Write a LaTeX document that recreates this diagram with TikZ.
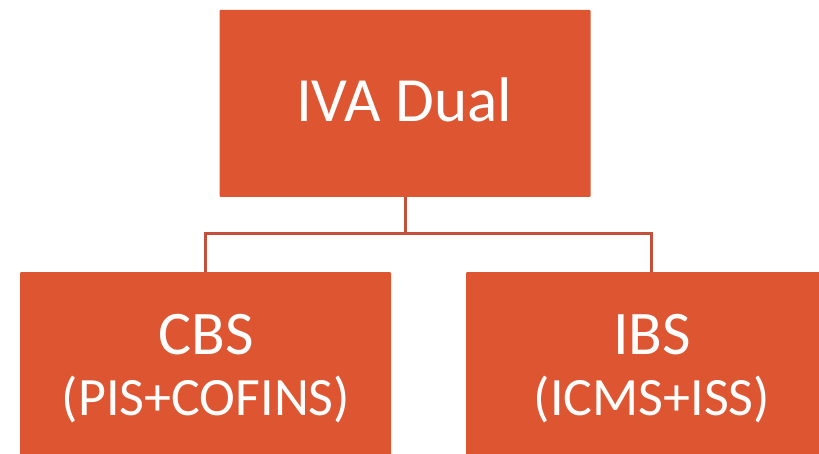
\documentclass[tikz,border=0pt]{standalone}
\usepackage{fontspec}
\setmainfont{Carlito}
\definecolor{boxfill}{HTML}{DE5631}
\definecolor{linec}{HTML}{C4503C}
\begin{document}
\begin{tikzpicture}[x=1pt,y=-1pt,
  orgbox/.style={fill=boxfill, draw=none, rounded corners=1pt, text=white, align=center},
  conn/.style={draw=linec, line width=3pt}]
\useasboundingbox (0,0) rectangle (819,454);
\clip (0,0) rectangle (819,454);
\fill[white] (0,0) rectangle (819,454);
\node[orgbox, minimum width=371pt, minimum height=187pt, inner sep=0pt] (top) at (405,103.5) {};
\node[text=white, font=\fontsize{63}{70}\selectfont, anchor=base] (toptxt) at (404,122) {IVA Dual};
\node[orgbox, minimum width=371pt, minimum height=200pt, inner sep=0pt, anchor=north] (left) at (205.5,272) {};
\node[orgbox, minimum width=371pt, minimum height=200pt, inner sep=0pt, anchor=north] (right) at (651.5,272) {};
\node[text=white, font=\fontsize{62}{66}\selectfont, anchor=base] (cbs) at (206,354) {CBS};
\node[text=white, font=\fontsize{54}{58}\selectfont, anchor=base] (cbs2) at (206,415) {(PIS+COFINS)};
\node[text=white, font=\fontsize{62}{66}\selectfont, anchor=base] (ibs) at (652,354) {IBS};
\node[text=white, font=\fontsize{54}{58}\selectfont, anchor=base] (ibs2) at (652,415) {(ICMS+ISS)};
\coordinate (mid) at (405,234);
\draw[conn] (top.south) -- (mid);
\draw[conn] (left.north) -- (205.5,234) -- (651.5,234) -- (right.north);
\end{tikzpicture}
\end{document}
